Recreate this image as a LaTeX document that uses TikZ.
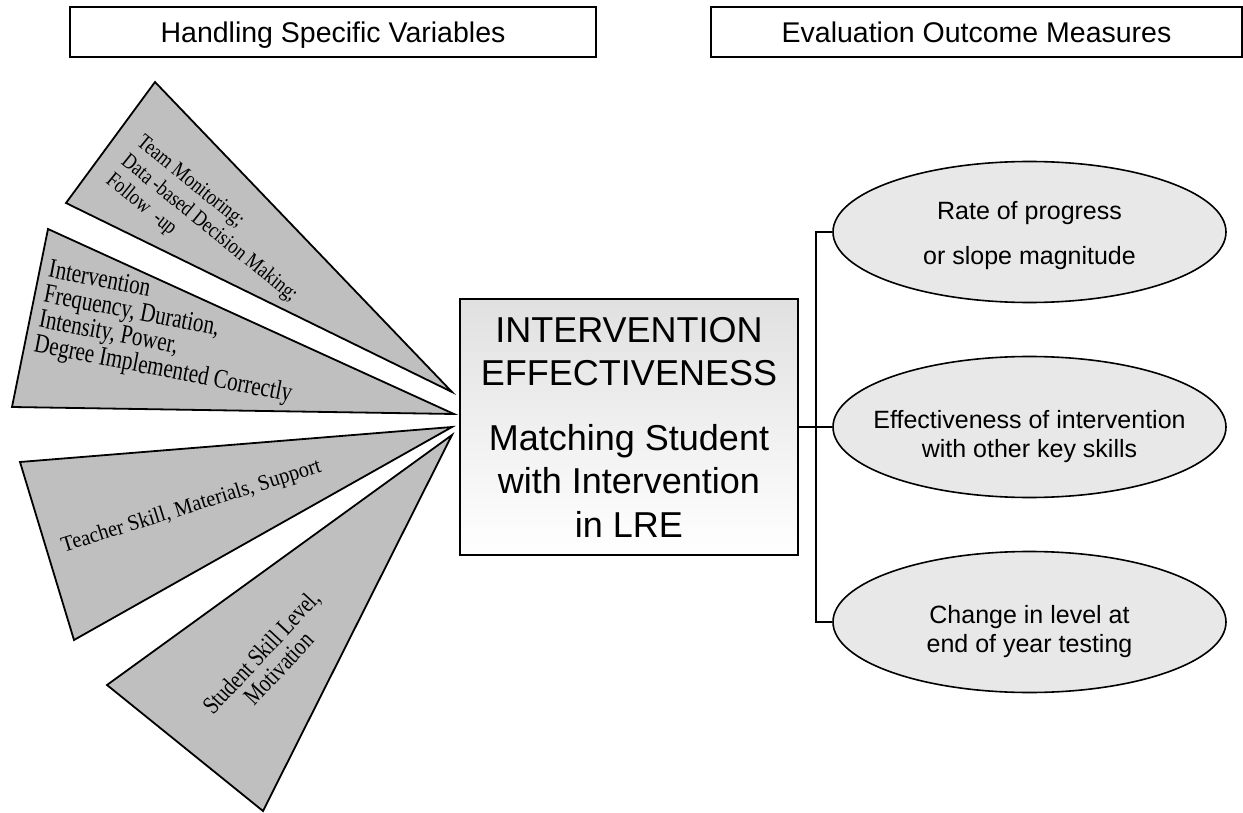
\documentclass[tikz,border=0pt]{standalone}
\usepackage{fontspec}
\setmainfont{Liberation Sans}
% narrow serif cuts for the slanted labels in the fan
\newfontfamily\tnrA[FakeStretch=0.82]{Liberation Serif}
\newfontfamily\tnrB[FakeStretch=0.78]{Liberation Serif}
\newfontfamily\tnrC[FakeStretch=0.93]{Liberation Serif}
\newfontfamily\tnrD[FakeStretch=0.80]{Liberation Serif}
\usetikzlibrary{shapes.geometric}

\begin{document}
\begin{tikzpicture}[x=1pt,y=-1pt,
  hdr/.style={draw, line width=2.2pt, minimum height=50pt, inner sep=0pt,
    font=\fontsize{28.5}{32}\selectfont, text height=20.4pt, text depth=0pt},
  fan/.style={draw, line width=1.8pt, fill=black!25},
  fantext/.style={inner sep=0pt},
  hub/.style={draw, line width=2pt, top color=black!12, bottom color=white,
    minimum width=338pt, minimum height=256pt, inner sep=0pt, align=center,
    font=\fontsize{36}{43.5}\selectfont},
  outcome/.style={ellipse, draw, line width=1.6pt, fill=black!9,
    minimum width=393pt, minimum height=141pt, inner sep=0pt},
  otext/.style={align=center, inner sep=0pt, font=\fontsize{25}{29}\selectfont},
  link/.style={line width=2pt}
]
\useasboundingbox (0,0) rectangle (1243,813);

% column headings
\node[hdr, minimum width=526pt] (hleft) at (333,32) {Handling Specific Variables};
\node[hdr, minimum width=531pt] (hright) at (976.5,32) {Evaluation Outcome Measures};

% fan of influencing variables
\draw[fan] (155,82) -- (66,203) -- (452,392) -- cycle;
\draw[fan] (48,229) -- (12,407) -- (454,414) -- cycle;
\draw[fan] (20,462) -- (74,640) -- (452,427) -- cycle;
\draw[fan] (107,685) -- (263,811) -- (452,435) -- cycle;

\node[fantext, anchor=north west, rotate=-39, align=left,
  font=\tnrA\fontsize{22}{24.5}\selectfont] (f1) at (145,133)
  {Team Monitoring;\\Data -based Decision Making;\\Follow \ -up};
\node[fantext, anchor=north west, rotate=-11, align=left,
  font=\tnrB\fontsize{27}{25.5}\selectfont] (f2) at (51,259)
  {Intervention\\Frequency, Duration,\\Intensity, Power,\\Degree Implemented Correctly};
\node[fantext, anchor=base, rotate=17.3,
  font=\tnrC\fontsize{22}{24}\selectfont] (f3) at (193,512)
  {Teacher Skill, Materials, Support};
\node[fantext, rotate=47, align=center,
  font=\tnrD\fontsize{25}{24}\selectfont] (f4) at (270,660)
  {Student Skill Level,\\Motivation};

% central box
\node[hub] (hubbox) at (629,427)
  {INTERVENTION\\EFFECTIVENESS\\[21pt]Matching Student\\with Intervention\\in LRE};

% outcome measures
\node[outcome] (e1) at (1029.5,232) {};
\node[outcome] (e2) at (1029.5,427) {};
\node[outcome] (e3) at (1029.5,622) {};
\node[otext] (t1) at (1029.5,236) {Rate of progress\\[16pt]or slope magnitude};
\node[otext] (t2) at (1029.5,437) {Effectiveness of intervention\\with other key skills};
\node[otext] (t3) at (1029.5,632) {Change in level at\\end of year testing};

% bracket joining the box to the outcomes
\coordinate (busT) at (816,232);
\coordinate (busB) at (816,622);
\draw[link] (e1.west) -- (busT) -- (busB) -- (e3.west);
\draw[link] (hubbox.east) -- (e2.west);
\end{tikzpicture}
\end{document}
